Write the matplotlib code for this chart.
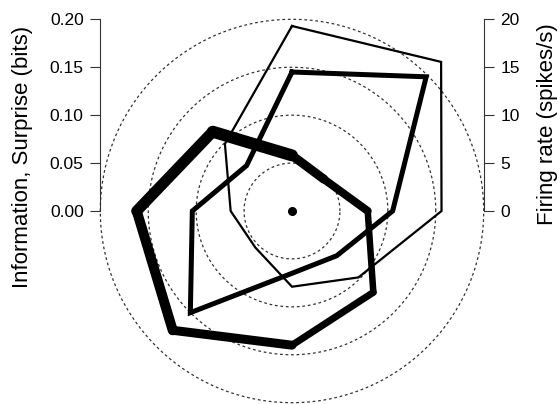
import numpy as np
import matplotlib
matplotlib.use("Agg")
import matplotlib.pyplot as plt

plt.rcParams['font.family'] = ['Liberation Sans', 'DejaVu Sans']

# directions (deg, clockwise from up)
directions = [0, 45, 90, 135, 180, 225, 270, 315]
information = [0.145, 0.198, 0.105, 0.066, 0.065, 0.150, 0.104, 0.067]   # bits
surprise = [0.058, 0.047, 0.079, 0.120, 0.140, 0.176, 0.162, 0.117]      # bits
firing_rate = [19.3, 22.0, 15.6, 9.8, 7.9, 5.4, 6.4, 9.9]                # spikes/s
ring_levels = [0.05, 0.10, 0.15, 0.20]
bit_ticks = [0.00, 0.05, 0.10, 0.15, 0.20]
rate_ticks = [0, 5, 10, 15, 20]

# line width (px) along the thick surprise edges
surprise_lw = [9, 8, 6.5, 7, 9, 10, 11, 12]


def to_xy(values, scale=1.0):
    th = np.deg2rad(directions)
    r = np.asarray(values) * scale
    x = r * np.sin(th)
    y = r * np.cos(th)
    return np.append(x, x[0]), np.append(y, y[0])


W, H = 560, 404
cx, cy = 292, 211
ppu = 958.5  # pixels per bit

fig = plt.figure(figsize=(W / 100, H / 100), dpi=100)
ax = fig.add_axes([0, 0, 1, 1])
ax.set_xlim(-cx / ppu, (W - cx) / ppu)
ax.set_ylim(-(H - cy) / ppu, cy / ppu)
ax.patch.set_alpha(0)

# dotted rings
t = np.linspace(0, 2 * np.pi, 400)
for lev in ring_levels:
    ax.plot(lev * np.cos(t), lev * np.sin(t), color='#333333', lw=0.9,
            ls=(0, (2.2, 2.2)), zorder=1)

x, y = to_xy(firing_rate, 0.01)
ax.plot(x, y, color='black', lw=1.6, solid_joinstyle='miter', zorder=2)

x, y = to_xy(information)
ax.plot(x, y, color='black', lw=3.6, solid_joinstyle='miter', zorder=3)

x, y = to_xy(surprise)
for i in range(len(directions)):
    ax.plot(x[i:i + 2], y[i:i + 2], color='black', lw=surprise_lw[i] * 0.72,
            solid_capstyle='round', zorder=4)

ax.plot([0], [0], 'o', color='black', ms=5.5, zorder=5)

for s in ['top', 'bottom', 'right']:
    ax.spines[s].set_visible(False)
ax.spines['left'].set_position(('data', -0.2))
ax.spines['left'].set_bounds(0, 0.2)
ax.spines['left'].set_color('#333333')
ax.set_xticks([])
ax.set_yticks(bit_ticks)
ax.set_yticklabels(['%.2f' % v for v in bit_ticks])
ax.tick_params(axis='y', length=7, width=0.8, color='#333333', labelsize=12.5, pad=5)

ax2 = ax.twinx()
ax2.set_ylim(ax.get_ylim()[0] * 100, ax.get_ylim()[1] * 100)
for s in ['top', 'bottom', 'left']:
    ax2.spines[s].set_visible(False)
ax2.spines['right'].set_position(('data', 0.2))
ax2.spines['right'].set_bounds(0, 20)
ax2.spines['right'].set_color('#333333')
ax2.set_yticks(rate_ticks)
ax2.tick_params(axis='y', length=7, width=0.8, color='#333333', labelsize=12.5, pad=5)

fig.text(23 / W, 1 - 157 / H, 'Information, Surprise (bits)', rotation=90,
         ha='center', va='center', fontsize=16)
fig.text(547 / W, 1 - 124 / H, 'Firing rate (spikes/s)', rotation=90,
         ha='center', va='center', fontsize=16)

fig.savefig('out.png', dpi=100)
